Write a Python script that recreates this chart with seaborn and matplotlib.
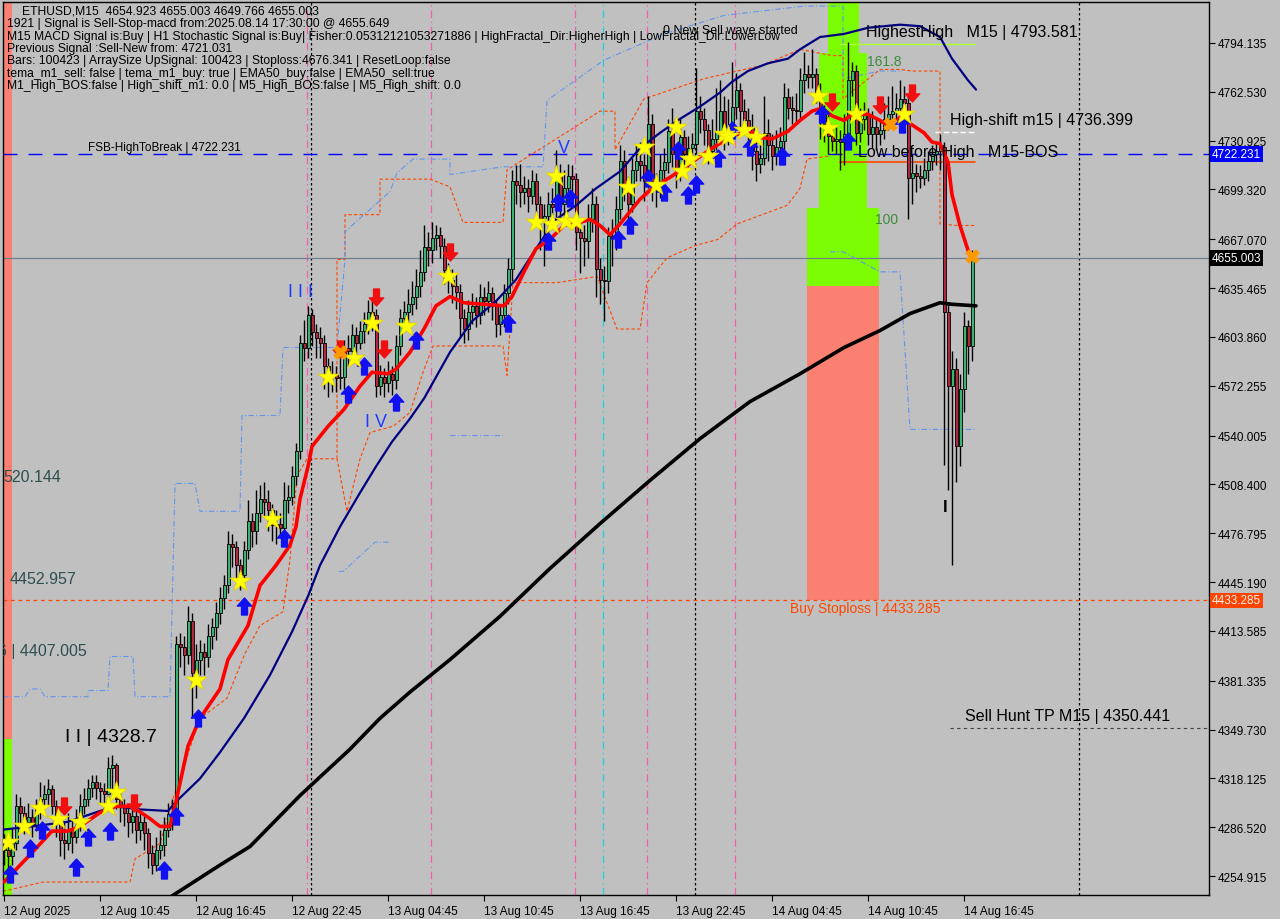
import numpy as np
import pandas as pd
import seaborn as sns
import matplotlib.pyplot as plt
from matplotlib.path import Path
from matplotlib.transforms import blended_transform_factory

sns.set_style("ticks")
plt.rcParams['font.family'] = ['Liberation Sans', 'DejaVu Sans']

BG = '#C0C0C0'

# ---- candles (ETHUSD M15), one value per bar ----
closes = [
    4272, 4268, 4276, 4300, 4296, 4290, 4293, 4288, 4298, 4305,
    4308, 4311, 4300, 4290, 4278, 4276, 4285, 4280, 4288, 4300,
    4305, 4312, 4316, 4312, 4310, 4308, 4325, 4327, 4305, 4300,
    4296, 4290, 4294, 4285, 4290, 4283, 4270, 4262, 4272, 4275,
    4285, 4295, 4296, 4405, 4403, 4398, 4420, 4386, 4395, 4400,
    4397, 4410, 4416, 4425, 4435, 4443, 4470, 4468, 4456, 4450,
    4466, 4485, 4478, 4490, 4499, 4497, 4492, 4482, 4483, 4480,
    4498, 4500, 4514, 4530, 4600, 4597, 4618, 4607, 4603, 4600,
    4585, 4578, 4580, 4577, 4578, 4597, 4595, 4605, 4600, 4608,
    4612, 4620, 4618, 4572, 4578, 4574, 4580, 4576, 4598, 4616,
    4620, 4625, 4630, 4637, 4646, 4662, 4660, 4668, 4670, 4663,
    4647, 4641, 4637, 4633, 4616, 4609, 4620, 4624, 4618, 4630,
    4627, 4632, 4624, 4612, 4618, 4632, 4648, 4705, 4702, 4698,
    4700, 4695, 4705, 4690, 4680, 4682, 4690, 4688, 4710, 4690,
    4700, 4708, 4706, 4672, 4668, 4666, 4680, 4690, 4648, 4641,
    4640, 4669, 4668, 4687, 4718, 4702, 4690, 4712, 4718, 4715,
    4705, 4742, 4705, 4700, 4712, 4717, 4737, 4722, 4712, 4733,
    4722, 4726, 4729, 4750, 4745, 4738, 4724, 4732, 4737, 4750,
    4736, 4738, 4753, 4764, 4750, 4744, 4739, 4724, 4716, 4720,
    4736, 4728, 4721, 4727, 4731, 4759, 4752, 4751, 4750, 4770,
    4774, 4772, 4774, 4762, 4750, 4742, 4734, 4731, 4732, 4730,
    4735, 4770, 4776, 4736, 4745, 4748, 4735, 4740, 4735, 4738,
    4745, 4748, 4750, 4752, 4758, 4755, 4707, 4710, 4708, 4707,
    4712, 4718, 4722, 4724, 4727, 4620, 4572, 4583, 4533, 4570,
    4611, 4598, 4655]
highs = [
    4282, 4278, 4286, 4308, 4306, 4300, 4302, 4298, 4305, 4316,
    4314, 4318, 4314, 4304, 4293, 4290, 4296, 4292, 4298, 4308,
    4312, 4318, 4320, 4320, 4316, 4315, 4332, 4333, 4328, 4310,
    4305, 4300, 4302, 4298, 4296, 4294, 4286, 4275, 4280, 4285,
    4293, 4302, 4305, 4410, 4412, 4410, 4430, 4425, 4405, 4408,
    4406, 4418, 4422, 4432, 4442, 4450, 4478, 4476, 4472, 4460,
    4472, 4498, 4490, 4505, 4508, 4510, 4505, 4496, 4492, 4490,
    4510, 4508, 4520, 4535, 4605, 4615, 4624, 4622, 4612, 4610,
    4605, 4590, 4588, 4585, 4590, 4602, 4605, 4612, 4610, 4614,
    4620, 4628, 4630, 4622, 4586, 4584, 4588, 4585, 4605, 4622,
    4627, 4635, 4640, 4648, 4660, 4676, 4672, 4678, 4676, 4675,
    4668, 4652, 4648, 4645, 4638, 4622, 4628, 4632, 4630, 4638,
    4636, 4640, 4636, 4628, 4625, 4638, 4655, 4712, 4715, 4716,
    4708, 4706, 4712, 4710, 4695, 4690, 4698, 4700, 4725, 4716,
    4712, 4716, 4715, 4710, 4680, 4676, 4690, 4700, 4695, 4655,
    4650, 4675, 4680, 4695, 4728, 4725, 4708, 4720, 4728, 4730,
    4722, 4760, 4748, 4710, 4722, 4726, 4745, 4752, 4728, 4745,
    4738, 4734, 4736, 4778, 4760, 4752, 4742, 4745, 4765, 4770,
    4760, 4758, 4782, 4775, 4768, 4758, 4752, 4748, 4730, 4728,
    4760, 4745, 4735, 4738, 4740, 4768, 4765, 4760, 4762, 4778,
    4788, 4780, 4790, 4778, 4768, 4756, 4750, 4740, 4740, 4738,
    4748, 4795, 4782, 4780, 4752, 4756, 4752, 4750, 4746, 4745,
    4755, 4760, 4766, 4762, 4770, 4766, 4760, 4722, 4716, 4715,
    4720, 4724, 4728, 4730, 4735, 4730, 4625, 4595, 4590, 4580,
    4620, 4615, 4660]
lows = [
    4262, 4258, 4262, 4272, 4285, 4282, 4284, 4280, 4284, 4292,
    4298, 4300, 4295, 4280, 4268, 4266, 4272, 4270, 4276, 4284,
    4295, 4300, 4306, 4305, 4302, 4298, 4304, 4308, 4298, 4290,
    4287, 4280, 4283, 4276, 4278, 4272, 4260, 4256, 4258, 4266,
    4268, 4280, 4285, 4290, 4390, 4385, 4392, 4357, 4370, 4385,
    4385, 4390, 4402, 4408, 4418, 4428, 4438, 4455, 4448, 4440,
    4445, 4460, 4468, 4470, 4484, 4488, 4478, 4472, 4470, 4474,
    4474, 4490, 4495, 4508, 4525, 4588, 4590, 4598, 4590, 4590,
    4570, 4565, 4568, 4568, 4570, 4570, 4585, 4590, 4590, 4596,
    4600, 4606, 4608, 4565, 4566, 4565, 4568, 4566, 4570, 4592,
    4610, 4612, 4618, 4622, 4630, 4640, 4650, 4652, 4660, 4655,
    4638, 4632, 4626, 4622, 4604, 4600, 4602, 4612, 4610, 4612,
    4618, 4620, 4615, 4604, 4605, 4610, 4625, 4640, 4690, 4688,
    4690, 4685, 4690, 4680, 4660, 4650, 4672, 4675, 4680, 4680,
    4682, 4694, 4695, 4660, 4645, 4650, 4655, 4672, 4630, 4625,
    4614, 4632, 4650, 4660, 4680, 4692, 4680, 4685, 4705, 4705,
    4692, 4700, 4692, 4688, 4694, 4705, 4710, 4714, 4700, 4705,
    4715, 4714, 4718, 4722, 4736, 4728, 4716, 4718, 4725, 4730,
    4725, 4728, 4730, 4745, 4740, 4735, 4730, 4712, 4705, 4710,
    4715, 4718, 4712, 4715, 4720, 4725, 4745, 4742, 4742, 4745,
    4762, 4765, 4765, 4755, 4732, 4730, 4722, 4724, 4722, 4712,
    4715, 4728, 4760, 4728, 4730, 4738, 4728, 4726, 4725, 4728,
    4732, 4738, 4740, 4742, 4745, 4740, 4680, 4690, 4698, 4700,
    4702, 4705, 4712, 4715, 4712, 4521, 4505, 4456, 4510, 4520,
    4555, 4580, 4588]
first_open = 4275

# ---- moving averages (bar, price) ----
ema_fast_bar = [0, 7, 12, 16, 19, 24, 28, 32, 36.5, 39, 41.5, 43, 46, 49, 54, 56, 61, 64, 68,
                71.5, 73, 74, 76, 77, 81, 85, 89, 92, 96, 98, 101.5, 105, 108, 111.5, 115, 120,
                125, 127, 130, 133, 136.5, 140, 144, 146.5, 149, 151.5, 154, 159, 162, 167, 172,
                177, 182, 186, 189, 192, 196, 199, 202, 204.5, 207, 210, 212, 216, 219, 221.5,
                224, 226.5, 230, 232, 234, 236, 237, 239, 241, 242]
ema_fast_val = [4251, 4270, 4284, 4284, 4287, 4296, 4300, 4300, 4292, 4287, 4287, 4303, 4339,
                4357, 4376, 4395, 4417, 4443, 4456, 4469, 4481, 4499, 4520, 4533, 4546, 4557,
                4572, 4581, 4580, 4583, 4594, 4609, 4624, 4630, 4626, 4625, 4624, 4630, 4646,
                4661, 4667, 4676, 4678, 4680, 4676, 4670, 4677, 4693, 4700, 4708, 4717, 4726,
                4734, 4737, 4733, 4732, 4737, 4744, 4750, 4752, 4747, 4744, 4748, 4748, 4744,
                4740, 4746, 4742, 4736, 4730, 4729, 4717, 4696, 4676, 4660, 4656]
ema_mid_bar = [0, 7, 16, 24, 28, 34, 41, 43, 49, 54, 60, 66.5, 72, 76, 79, 84, 89, 93, 97,
               101.5, 105, 111.5, 117, 123, 128, 133, 138, 143, 148, 154, 159, 164, 169, 174,
               179, 182, 186, 191, 196, 199, 204, 210, 216, 224, 229, 234, 237, 241, 243]
ema_mid_val = [4285, 4287, 4290, 4297, 4300, 4298, 4297, 4303, 4318, 4335, 4357, 4385, 4413,
               4436, 4456, 4481, 4503, 4520, 4536, 4551, 4564, 4594, 4614, 4627, 4641, 4661,
               4680, 4689, 4700, 4711, 4726, 4736, 4745, 4753, 4762, 4769, 4776, 4781, 4784,
               4790, 4798, 4800, 4804, 4806, 4805, 4798, 4784, 4770, 4764]
ema_slow_bar = [39, 54, 61.5, 74, 86.5, 94, 101.5, 111.5, 124, 136.5, 149, 161.5, 174, 186.5,
                199, 210, 219, 226.5, 234, 237, 243]
ema_slow_val = [4237, 4262, 4274, 4307, 4337, 4357, 4374, 4395, 4423, 4454, 4483, 4511, 4538,
                4562, 4580, 4597, 4608, 4619, 4626, 4625, 4624]

# ---- channel step lines (bar, price) ----
orange_lo_bar = [-0.25, 9.75, 31.5, 32.75, 39, 42.25, 49, 55.75, 60.25, 64, 69.75, 71.5, 73.25,
                 75.75, 83.25, 85.75, 89, 91.5, 97.25, 101.5, 104.75, 107.25, 124.75, 125.75,
                 127.25, 138.25, 148.25, 153.25, 159, 160.75, 165.75, 172.75, 178.5, 183.25,
                 195.75, 199, 200.75, 206.5]
orange_lo_val = [4245, 4251, 4251, 4266, 4276, 4305, 4357, 4370, 4399, 4417, 4426, 4460, 4514,
                 4525, 4525, 4491, 4525, 4542, 4546, 4555, 4581, 4598, 4598, 4579, 4639, 4639,
                 4643, 4609, 4609, 4639, 4655, 4663, 4667, 4677, 4689, 4700, 4719, 4721]
orange_hi_bar = [83.25, 83.25, 85.25, 85.25, 94, 94, 106.5, 111.5, 114.75, 124.75, 125.75,
                 149, 152.75, 152.75, 160, 175, 190, 199, 207, 209.75, 209.75, 219, 224,
                 227, 234, 234, 238.25, 242.75]
orange_hi_val = [4525, 4654, 4654, 4683, 4683, 4706, 4706, 4701, 4678, 4678, 4712, 4750, 4750,
                 4725, 4758, 4771, 4780, 4790, 4786, 4786, 4758, 4777, 4777, 4776, 4776, 4677,
                 4676, 4676]
blue_hi_bar = [-0.25, 5.25, 6.5, 9, 10.25, 21, 21, 26, 26.5, 32.25, 32.75, 41.5, 42.75, 47.75,
               49, 59, 59.5, 69, 69.75, 83.25, 85.25, 85.25, 96.5, 98.25, 102.25, 111.5, 111.5,
               124.75, 134.75, 135.75, 150, 165, 180, 200, 206, 209.75, 209.75, 219, 224.5]
blue_hi_val = [4371, 4371, 4376, 4376, 4371, 4371, 4375, 4375, 4397, 4397, 4371, 4371, 4509,
               4509, 4491, 4491, 4553, 4553, 4597, 4597, 4654, 4672, 4698, 4710, 4719, 4719,
               4709, 4714, 4714, 4757, 4783, 4800, 4812, 4818, 4818, 4818, 4771, 4776, 4776]
blue_lo_bar = [83.75, 84.75, 92.75, 96.75, np.nan, 111.5, 124.75, np.nan, 206.5, 209.75,
               219, 224, 226.5, 242.75]
blue_lo_val = [4452, 4452, 4471, 4471, np.nan, 4540, 4540, np.nan, 4659, 4659, 4646, 4646,
               4544, 4544]

# ---- zones (bar0, bar1, price_lo, price_hi) ----
zone_bar0 = [206.0, 203.75, 200.75, 200.75, -0.25, -0.25]
zone_bar1 = [213.75, 215.75, 218.75, 218.75, 2.0, 2.0]
zone_lo = [4786.2, 4687.4, 4636.9, 4433.6, 4343.6, 4230.0]
zone_hi = [4830.0, 4787.7, 4687.4, 4636.9, 4830.0, 4343.6]
zone_col = ['#7CFC00', '#7CFC00', '#7CFC00', '#FA8072', '#FA8072', '#7CFC00']

# ---- signal markers (bar, price) ----
buy_bar = [1.5, 6.5, 9.5, 18, 21, 26.5, 40, 43, 48.5, 60, 70, 86, 90, 98, 103, 126, 136, 138.5,
           141.5, 153.5, 156.5, 161, 165, 168.5, 171, 173, 178.5, 182, 186.5, 194.5, 204.5,
           211, 224.5]
buy_val = [4256, 4273, 4285, 4261, 4280, 4284, 4259, 4294, 4357, 4430, 4474, 4567, 4585, 4562,
           4602, 4613, 4666, 4691, 4694, 4667, 4676, 4707, 4698, 4725, 4696, 4703, 4720, 4738,
           4727, 4721, 4748, 4731, 4742]
sell_bar = [15, 32.5, 84, 93, 95, 111.5, 207, 219, 227]
sell_val = [4300, 4302, 4596, 4630, 4596, 4659, 4756, 4754, 4762]
star_bar = [1, 5, 9, 13.5, 19, 26, 28, 48, 59, 67, 81, 87.5, 92, 100.5, 111, 133, 137, 138,
            140.5, 143, 156, 160, 163, 168, 169.5, 171.5, 176, 180, 181, 185, 188, 203.5, 206,
            213, 225]
star_val = [4277, 4287, 4299, 4292, 4290, 4300, 4309, 4382, 4446, 4486, 4578, 4590, 4613, 4611,
            4643, 4678, 4677, 4708, 4679, 4679, 4701, 4727, 4702, 4740, 4711, 4719, 4721, 4735,
            4734, 4738, 4733, 4760, 4739, 4748, 4748]
cross_bar = [84, 221.5, 242]
cross_val = [4594, 4742, 4656]

# ---- levels ----
fsb_level = 4722.231
last_price = 4655.003
stoploss = 4433.285
hunt_tp = 4350.441
highest_high = 4793.581
high_shift = 4736.399
low_before_high = 4717.1
sep_bars = [76.75, 172.75, 268.75]
pink_bars = [75.75, 106.75, 142.75, 160.75, 182.75]
cyan_bars = [149.75]

yticks = [4794.135, 4762.530, 4730.925, 4699.320, 4667.070, 4635.465, 4603.860, 4572.255,
          4540.005, 4508.400, 4476.795, 4445.190, 4413.585, 4381.335, 4349.730, 4318.125,
          4286.520, 4254.915]
xtick_bars = [0, 24, 48, 72, 96, 120, 144, 168, 192, 216, 240]
xtick_labels = ['12 Aug 2025', '12 Aug 10:45', '12 Aug 16:45', '12 Aug 22:45', '13 Aug 04:45',
                '13 Aug 10:45', '13 Aug 16:45', '13 Aug 22:45', '14 Aug 04:45', '14 Aug 10:45',
                '14 Aug 16:45']

info_lines = [
    "1921 | Signal is Sell-Stop-macd from:2025.08.14 17:30:00 @ 4655.649",
    "M15 MACD Signal is:Buy | H1 Stochastic Signal is:Buy| Fisher:0.05312121053271886 | "
    "HighFractal_Dir:HigherHigh | LowFractal_Dir:LowerLow",
    "Previous Signal :Sell-New from: 4721.031",
    "Bars: 100423 | ArraySize UpSignal: 100423 | Stoploss:4676.341 | ResetLoop:false",
    "tema_m1_sell: false | tema_m1_buy: true | EMA50_buy:false | EMA50_sell:true",
    "M1_High_BOS:false | High_shift_m1: 0.0 | M5_High_BOS:false | M5_High_shift: 0.0",
]

# ---- build frame ----
n = min(len(closes), len(highs), len(lows))
c = np.array(closes[:n], dtype=float)
o = np.concatenate([[first_open], c[:-1]])
h = np.maximum(np.array(highs[:n], dtype=float), np.maximum(o, c))
l = np.minimum(np.array(lows[:n], dtype=float), np.minimum(o, c))
bars = pd.DataFrame({'bar': np.arange(n), 'open': o, 'high': h, 'low': l, 'close': c})
bars['up'] = bars['close'] >= bars['open']

fig = plt.figure(figsize=(12.8, 9.2), dpi=100, facecolor=BG)
ax = fig.add_axes([3 / 1280, 24 / 920, 1206 / 1280, 893 / 920])
ax.set_facecolor(BG)
ax.set_xlim(-0.25, 301.25)
ax.set_ylim(4242.616, 4820.675)

for b0, b1, lo_, hi_, col in zip(zone_bar0, zone_bar1, zone_lo, zone_hi, zone_col):
    ax.fill_between([b0, b1], lo_, hi_, color=col, lw=0, zorder=1)

for xb in sep_bars:
    ax.axvline(xb, color='black', lw=0.9, ls=(0, (2, 2)), zorder=2)
for xb in pink_bars:
    ax.axvline(xb, color='#F060B0', lw=0.9, ls=(0, (6, 3, 1, 3)), zorder=2)
for xb in cyan_bars:
    ax.axvline(xb, color='#20D0E0', lw=0.9, ls=(0, (6, 3, 1, 3)), zorder=2)

ax.axhline(fsb_level, color='#0000FF', lw=1.0, ls=(0, (10, 8)), zorder=2)
ax.axhline(last_price, color='#708090', lw=0.9, zorder=2)
ax.axhline(stoploss, color='#FF4500', lw=0.9, ls=(0, (3, 3)), zorder=2)
ax.plot([236.5, 301.25], [hunt_tp, hunt_tp], color='#404040', lw=0.8, ls=(0, (3, 3)), zorder=2)
ax.plot([209, 242.75], [highest_high, highest_high], color='#ADFF2F', lw=1.0, zorder=2)
ax.plot([232.75, 242.75], [high_shift, high_shift], color='white', lw=1.0, ls=(0, (4, 2)), zorder=2)
ax.plot([209, 242.75], [low_before_high, low_before_high], color='#FF4500', lw=1.2, zorder=2)

ax.plot(orange_lo_bar, orange_lo_val, color='#FF4500', lw=0.8, ls=(0, (3, 2)), zorder=2)
ax.plot(orange_hi_bar, orange_hi_val, color='#FF4500', lw=0.8, ls=(0, (3, 2)), zorder=2)
ax.plot(blue_hi_bar, blue_hi_val, color='#6495ED', lw=0.8, ls=(0, (5, 2, 1, 2)), zorder=2)
ax.plot(blue_lo_bar, blue_lo_val, color='#6495ED', lw=0.8, ls=(0, (5, 2, 1, 2)), zorder=2)

# candles
ax.vlines(bars['bar'], bars['low'], bars['high'], color='black', lw=1.0, zorder=3)
body = (bars['close'] - bars['open']).to_numpy()
body = np.where(np.abs(body) < 1.0, np.where(body >= 0, 1.0, -1.0), body)
ax.bar(bars['bar'], body, bottom=bars['open'], width=0.75,
       color=np.where(bars['up'], '#3CB371', '#B0283C'), edgecolor='black', lw=0.6, zorder=4)

# moving averages
sns.lineplot(x=ema_slow_bar, y=ema_slow_val, color='black', lw=2.6, sort=False,
             estimator=None, ax=ax, zorder=5)
sns.lineplot(x=ema_mid_bar, y=ema_mid_val, color='#000080', lw=1.6, sort=False,
             estimator=None, ax=ax, zorder=5)
sns.lineplot(x=ema_fast_bar, y=ema_fast_val, color='#FF0000', lw=2.6, sort=False,
             estimator=None, ax=ax, zorder=6)

up_arrow = Path([(0, 1), (-0.85, 0.05), (-0.35, 0.05), (-0.35, -1), (0.35, -1), (0.35, 0.05),
                 (0.85, 0.05), (0, 1)], closed=True)
down_arrow = Path([(0, -1), (-0.85, -0.05), (-0.35, -0.05), (-0.35, 1), (0.35, 1), (0.35, -0.05),
                   (0.85, -0.05), (0, -1)], closed=True)
sns.scatterplot(x=buy_bar, y=buy_val, marker=up_arrow, s=150, color='#1010F0',
                edgecolor='#1010F0', ax=ax, zorder=7)
sns.scatterplot(x=sell_bar, y=sell_val, marker=down_arrow, s=150, color='#F01010',
                edgecolor='#F01010', ax=ax, zorder=7)
sns.scatterplot(x=star_bar, y=star_val, marker='*', s=260, color='#FFFF00',
                edgecolor='#E0D000', linewidth=0.5, ax=ax, zorder=8)
sns.scatterplot(x=cross_bar, y=cross_val, marker='X', s=90, color='#FF9900',
                edgecolor='#FF9900', ax=ax, zorder=8)

# texts on the chart
tc = dict(clip_on=True, zorder=9)
ax.text(21, 4726.8, 'FSB-HighToBreak | 4722.231', fontsize=8.5, va='center', color='black', **tc)
ax.text(164.75, 4802.5, '0 New Sell wave started', fontsize=9, va='center', color='black', **tc)
ax.text(215.5, 4801.3, 'HighestHigh   M15 | 4793.581', fontsize=11.5, va='center', color='black', **tc)
ax.text(215.75, 4782.5, '161.8', fontsize=10, va='center', color='#3C8C3C', **tc)
ax.text(236.5, 4744.3, 'High-shift m15 | 4736.399', fontsize=11.5, va='center', color='black', **tc)
ax.text(213.5, 4724.2, 'Low before High   M15-BOS', fontsize=11.5, va='center', color='black', **tc)
ax.text(217.75, 4680.2, '100', fontsize=10, va='center', color='#3C8C3C', **tc)
ax.text(196.5, 4428.4, 'Buy Stoploss | 4433.285', fontsize=10, va='center', color='#FF4500', **tc)
ax.text(240.25, 4358.5, 'Sell Hunt TP M15 | 4350.441', fontsize=11.5, va='center', color='black', **tc)
ax.text(15.25, 4344.9, 'I I | 4328.7', fontsize=14, va='center', color='black', **tc)
ax.text(1.5, 4447.2, '4452.957', fontsize=11.5, va='center', color='#2F4F4F', **tc)
ax.text(-1.6, 4401.2, '6 | 4407.005', fontsize=11.5, va='center', color='#2F4F4F', **tc)
ax.text(-0.1, 4513.6, '520.144', fontsize=11.5, va='center', color='#2F4F4F', **tc)
ax.text(71, 4633, 'I I I', fontsize=13, va='center', color='#1E3CFF', **tc)
ax.text(90.25, 4548.8, 'I V', fontsize=13, va='center', color='#1E3CFF', **tc)
ax.text(138.5, 4726.8, 'V', fontsize=13, va='center', color='#1E3CFF', **tc)
ax.text(234.75, 4493.8, 'I', fontsize=12, fontweight='bold', va='center', color='black', **tc)

# axes styling
for sp in ax.spines.values():
    sp.set_visible(True)
    sp.set_color('black')
    sp.set_linewidth(1.0)
ax.yaxis.tick_right()
ax.set_yticks(yticks)
ax.set_yticklabels([f'{v:.3f}' for v in yticks])
ax.set_xticks(xtick_bars)
ax.set_xticklabels(xtick_labels, ha='left')
ax.tick_params(axis='both', direction='out', length=4, width=0.8, color='black',
               labelsize=8.5, labelcolor='black', pad=2)
ax.tick_params(axis='x', pad=3)
ax.set_xlabel('')
ax.set_ylabel('')

tr = blended_transform_factory(ax.transAxes, ax.transData)
for val, fc, tcol in [(fsb_level, '#0000FF', 'white'), (last_price, 'black', 'white'),
                      (stoploss, '#FF4500', '#F0F0F0')]:
    ax.text(1.0025, val, f'{val:.3f}', transform=tr, fontsize=8.5, color=tcol, va='center',
            ha='left', clip_on=False, zorder=10,
            bbox=dict(facecolor=fc, edgecolor='none', pad=1.5, boxstyle='square,pad=0.15'))

# header info
fig.text(22 / 1280, 1 - 12 / 920, 'ETHUSD,M15  4654.923 4655.003 4649.766 4655.003',
         fontsize=8.7, va='center', ha='left', color='black')
for k, line in enumerate(info_lines):
    fig.text(7 / 1280, 1 - (24.5 + 12.3 * k) / 920, line, fontsize=8.7, va='center',
             ha='left', color='black')

fig.savefig('out.png', dpi=100, facecolor=BG)
